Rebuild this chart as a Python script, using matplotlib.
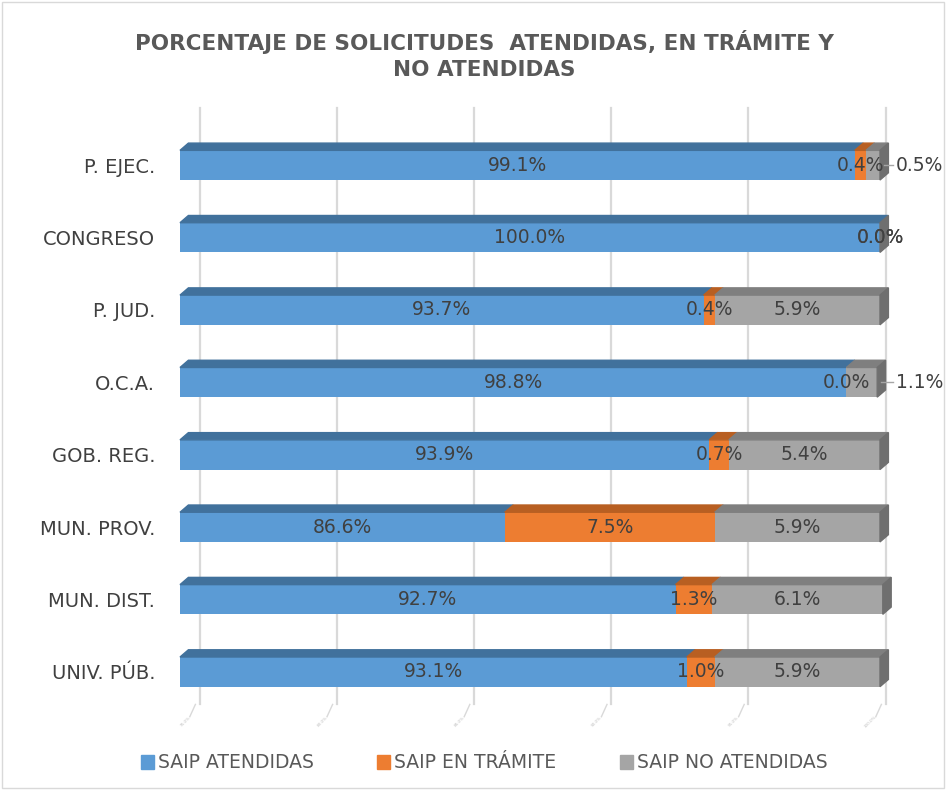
import numpy as np
import matplotlib
matplotlib.use('Agg')
import matplotlib.pyplot as plt
from matplotlib.patches import Polygon, Rectangle

plt.rcParams['font.family'] = ['DejaVu Sans']

# Data
categories = ['P. EJEC.', 'CONGRESO', 'P. JUD.', 'O.C.A.', 'GOB. REG.',
              'MUN. PROV.', 'MUN. DIST.', 'UNIV. PÚB.']
atendidas = [99.1, 100.0, 93.7, 98.8, 93.9, 86.6, 92.7, 93.1]
en_tramite = [0.4, 0.0, 0.4, 0.0, 0.7, 7.5, 1.3, 1.0]
no_atendidas = [0.5, 0.0, 5.9, 1.1, 5.4, 5.9, 6.1, 5.9]
series_names = ['SAIP ATENDIDAS', 'SAIP EN TRÁMITE', 'SAIP NO ATENDIDAS']
x_ticks = [75, 80, 85, 90, 95, 100]

colors = ['#5B9BD5', '#ED7D31', '#A5A5A5']
top_colors = ['#41719C', '#B85F22', '#7F7F7F']
txt_color = '#404040'
fs = 13.5

fig = plt.figure(figsize=(9.47, 7.90), dpi=100)
ax = fig.add_axes([180 / 947, (790 - 716) / 790, 700 / 947, 608 / 790])
ax.set_xlim(75, 100)
ax.set_ylim(7.61, -0.79)

y = np.arange(len(categories))
h = 0.41     # front face height
dx, dy = 0.3, 0.1   # fake 3D depth

# back wall gridlines
for t in x_ticks:
    bx = 75.7 + (t - 75) * 0.98
    ax.plot([bx, bx], [-0.79, 7.45], color='#D9D9D9', lw=1.6, zorder=0, clip_on=False)
    ax.plot([bx - 0.15, bx - 0.35], [7.45, 7.62], color='#D9D9D9', lw=1, zorder=0, clip_on=False)
    ax.text(bx - 0.3, 7.6, f'{t:.1f}%', fontsize=3, rotation=45, ha='right', va='top',
            color='#BFBFBF', clip_on=False)

series = [atendidas, en_tramite, no_atendidas]
left = np.full(len(categories), 75.0)
for k, vals in enumerate(series):
    vals = np.array(vals, dtype=float)
    starts = np.where(k == 0, 75.0, left)
    widths = vals if k > 0 else vals - 75.0
    ax.barh(y, widths, left=starts, height=h, color=colors[k], zorder=2, clip_on=False)
    for i in range(len(y)):
        l, r = starts[i], starts[i] + widths[i]
        yt = y[i] - h / 2
        if widths[i] > 0:
            ax.add_patch(Polygon([(l, yt), (r, yt), (r + dx, yt - dy), (l + dx, yt - dy)],
                                 closed=True, color=top_colors[k], zorder=2, clip_on=False))
        if k == len(series) - 1:
            ax.add_patch(Polygon([(r, yt), (r + dx, yt - dy), (r + dx, yt + h - dy), (r, yt + h)],
                                 closed=True, color='#6F6F6F', zorder=2, clip_on=False))
        # data labels
        v = vals[i]
        lab = f'{v:.1f}%'
        if k == len(series) - 1 and 0 < v < 2:
            ax.plot([r + dx * 0.5, 100.45], [y[i], y[i]], color='#A6A6A6', lw=1, zorder=3,
                    clip_on=False)
            ax.text(101.4, y[i], lab, ha='center', va='center', fontsize=fs,
                    color=txt_color, zorder=4, clip_on=False)
        else:
            ax.text((l + r) / 2, y[i], lab, ha='center', va='center', fontsize=fs,
                    color=txt_color, zorder=4, clip_on=False)
    left = starts + widths

ax.set_yticks(y, categories)
ax.set_xticks([])
ax.tick_params(axis='y', length=0, pad=18, labelsize=14, labelcolor=txt_color)
for s in ax.spines.values():
    s.set_visible(False)
ax.patch.set_visible(False)

# title
fig.text(484 / 947, 1 - 42 / 790, 'PORCENTAJE DE SOLICITUDES  ATENDIDAS, EN TRÁMITE Y',
         ha='center', va='center', fontsize=15.5, fontweight='bold', color='#595959')
fig.text(484 / 947, 1 - 70 / 790, 'NO ATENDIDAS',
         ha='center', va='center', fontsize=15.5, fontweight='bold', color='#595959')

# legend
handles = [Rectangle((0, 0), 1, 1, color=c) for c in colors]
leg = fig.legend(handles, series_names, loc='center', bbox_to_anchor=(484 / 947, 1 - 763 / 790),
                 ncol=3, frameon=False, fontsize=fs, handlelength=0.7, handleheight=0.7,
                 handletextpad=0.2, columnspacing=3.4)
for t in leg.get_texts():
    t.set_color('#595959')

# chart border
fig.patches.append(Rectangle((0.002, 0.002), 0.995, 0.995, transform=fig.transFigure,
                             fill=False, edgecolor='#D9D9D9', lw=1))

fig.savefig('out.png', dpi=100)
